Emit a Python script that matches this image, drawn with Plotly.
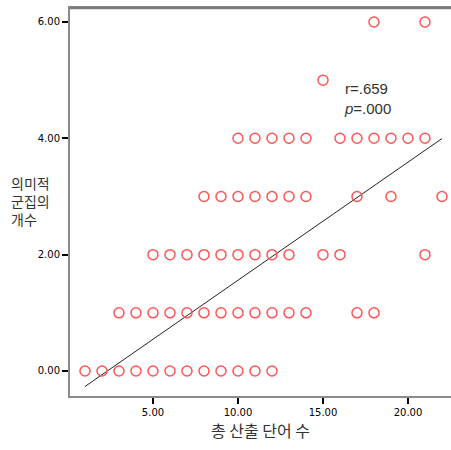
import plotly.graph_objects as go

# Number of words produced (x) and number of semantic clusters (y), one row per cluster count
rows = {
    0: [1, 2, 3, 4, 5, 6, 7, 8, 9, 10, 11, 12],
    1: [3, 4, 5, 6, 7, 8, 9, 10, 11, 12, 13, 14, 17, 18],
    2: [5, 6, 7, 8, 9, 10, 11, 12, 13, 15, 16, 21],
    3: [8, 9, 10, 11, 12, 13, 14, 17, 19, 22],
    4: [10, 11, 12, 13, 14, 16, 17, 18, 19, 20, 21],
    5: [15],
    6: [18, 21],
}
words = [x for y, xs in rows.items() for x in xs]
clusters = [y for y, xs in rows.items() for _ in xs]

# Linear fit line
fit_slope = 0.203
fit_intercept = -0.47
fit_x = [min(words), max(words)]
fit_y = [fit_intercept + fit_slope * v for v in fit_x]

x_ticks = [5, 10, 15, 20]
y_ticks = [0, 2, 4, 6]

W, H = 451, 450
M_L, M_R, M_T, M_B = 70, 0, 8, 54
plot_w = W - M_L - M_R
plot_h = H - M_T - M_B


def px_to_paper(px_x, px_y):
    return (px_x - M_L) / plot_w, (H - M_B - px_y) / plot_h


fig = go.Figure()
fig.add_trace(go.Scatter(
    x=fit_x, y=fit_y, mode="lines",
    line=dict(color="#222222", width=1), hoverinfo="skip",
))
fig.add_trace(go.Scatter(
    x=words, y=clusters, mode="markers",
    marker=dict(symbol="circle-open", size=10, color="#ff5555",
                line=dict(width=1.5, color="#ff5555")),
))

fig.add_annotation(
    x=16.1, y=4.68, xref="x", yref="y", xanchor="left", yanchor="middle",
    text="r=.659<br><i>p</i>=.000", showarrow=False, align="left",
    font=dict(family="Liberation Sans", size=15, color="#333333"),
)

# Stacked y-axis title
ax, ay = px_to_paper(9, 201)
fig.add_annotation(
    x=ax, y=ay, xref="paper", yref="paper",
    text="의미적<br>군집의<br>개수", showarrow=False, align="left",
    xanchor="left", yanchor="middle",
    font=dict(family="Noto Sans CJK KR", size=14, color="#333333"),
)

# Top border of the frame
fig.add_shape(type="line", xref="paper", yref="paper", x0=0, x1=1,
              y0=1, y1=1, layer="above",
              line=dict(color="#7a7a7a", width=2.5))

fig.update_layout(
    width=W, height=H,
    margin=dict(l=M_L, r=M_R, t=M_T, b=M_B),
    paper_bgcolor="white", plot_bgcolor="white",
    showlegend=False,
    xaxis=dict(
        range=[0.118, 22.53], tickvals=x_ticks,
        ticktext=[f"{v:.2f}" for v in x_ticks],
        showgrid=False, zeroline=False,
        showline=True, linecolor="#8a8a8a", linewidth=2, mirror=True,
        ticks="outside", ticklen=6, tickwidth=2, tickcolor="black",
        tickfont=dict(family="DejaVu Sans", size=10, color="black"),
        title=dict(text="총 산출 단어 수", standoff=8,
                   font=dict(family="Noto Sans CJK KR", size=16, color="#333333")),
    ),
    yaxis=dict(
        range=[-0.43, 6.24], tickvals=y_ticks,
        ticktext=[f"{v:.2f}" for v in y_ticks],
        showgrid=False, zeroline=False,
        showline=True, linecolor="#8a8a8a", linewidth=2,
        ticks="outside", ticklen=6, tickwidth=2, tickcolor="black",
        tickfont=dict(family="DejaVu Sans", size=10, color="black"),
    ),
)

fig.write_html("out.html", config={"displayModeBar": False})
